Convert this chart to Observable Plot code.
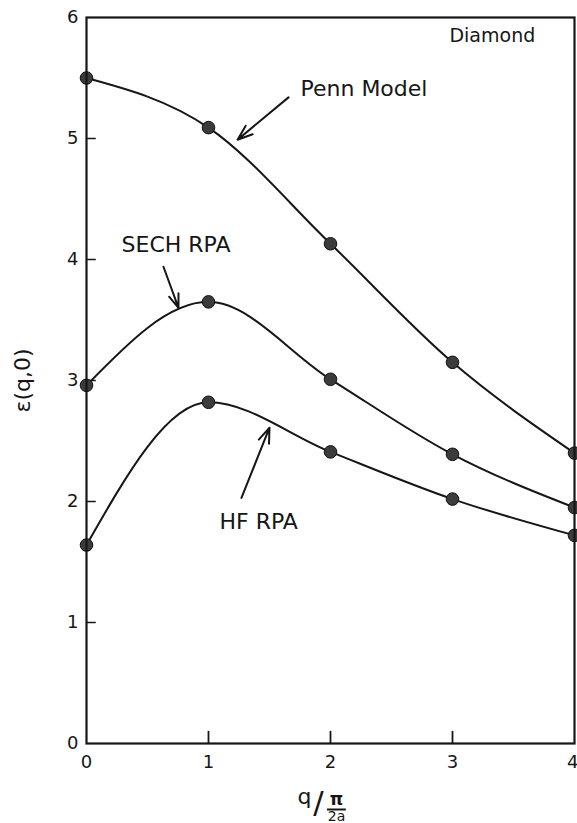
<!DOCTYPE html>
<html>
<head>
<meta charset="utf-8">
<script src="https://cdn.jsdelivr.net/npm/d3@7"></script>
<script src="https://cdn.jsdelivr.net/npm/@observablehq/plot@0.6"></script>
<style>
  html, body { margin: 0; padding: 0; background: #fff; }
  #chart svg { display: block; }
</style>
</head>
<body>
<div id="chart"></div>
<script>
// Data
const qValues = [0, 1, 2, 3, 4];
const pennModel = [5.50, 5.09, 4.13, 3.15, 2.40];
const sechRPA  = [2.96, 3.65, 3.01, 2.39, 1.95];
const hfRPA    = [1.64, 2.82, 2.41, 2.02, 1.72];
const seriesNames = ["Penn Model", "SECH RPA", "HF RPA"];
const xTicks = [0, 1, 2, 3];
const xLastTick = [4];
const yTicks = [0, 1, 2, 3, 4, 5, 6];
const xInnerTicks = [1, 2, 3];
const yInnerTicks = [1, 2, 3, 4, 5];

// Annotation labels (data coordinates)
const labelText = ["Penn Model", "SECH RPA", "HF RPA"];
const labelX = [1.754, 0.287, 1.09];
const labelY = [5.41, 4.12, 1.83];
const titleText = ["Diamond"];
const titleX = [2.975];
const titleY = [5.85];
// Annotation arrows (data coordinates)
const arrowX1 = [1.656, 0.631, 1.27];
const arrowY1 = [5.34, 3.94, 2.03];
const arrowX2 = [1.238, 0.754, 1.50];
const arrowY2 = [4.99, 3.60, 2.61];
// fraction bar of the x title (data x-extent)
const barX1 = [1.975];
const barX2 = [2.13];

const seriesValues = [pennModel, sechRPA, hfRPA];
const points = seriesNames.flatMap((name, i) =>
  qValues.map((q, j) => ({series: name, q, eps: seriesValues[i][j]})));
const labels = labelText.map((t, i) => ({t, x: labelX[i], y: labelY[i]}));
const titles = titleText.map((t, i) => ({t, x: titleX[i], y: titleY[i]}));
const arrows = arrowX1.map((x1, i) => ({x1, y1: arrowY1[i], x2: arrowX2[i], y2: arrowY2[i]}));
const bars = barX1.map((x1, i) => ({x1, x2: barX2[i]}));

const font = "'DejaVu Sans', sans-serif";
const ink = "#161616";
const fmt = d3.format("d");
const mid = {textAnchor: "middle", lineAnchor: "middle", fill: ink};

const chart = Plot.plot({
  width: 577,
  height: 823,
  marginLeft: 86,
  marginRight: 3,
  marginTop: 17,
  marginBottom: 80,
  style: {fontFamily: font, background: "#fff", color: ink},
  x: {domain: [0, 4]},
  y: {domain: [0, 6]},
  marks: [
    Plot.ruleY(yInnerTicks, {y: d => d, x1: 0, x2: 0.08, stroke: ink, strokeWidth: 1.5}),
    Plot.ruleX(xInnerTicks, {x: d => d, y1: 0, y2: 0.1, stroke: ink, strokeWidth: 1.8}),
    Plot.line(points, {x: "q", y: "eps", z: "series", curve: "monotone-x", stroke: ink, strokeWidth: 2}),
    Plot.dot(points, {x: "q", y: "eps", r: 6.3, fill: "#3b3b3b", stroke: "#111", strokeWidth: 1}),
    Plot.frame({stroke: ink, strokeWidth: 2.2}),
    Plot.axisY({ticks: yTicks, tickSize: 0, tickPadding: 8, fontSize: 18, tickFormat: fmt, label: null}),
    Plot.axisX({ticks: xTicks, tickSize: 0, tickPadding: 12, fontSize: 18, tickFormat: fmt, label: null}),
    Plot.axisX({ticks: xLastTick, tickSize: 0, tickPadding: 12, fontSize: 18, tickFormat: fmt, label: null, textAnchor: "end", dx: 4}),
    Plot.text(titles, {x: "x", y: "y", text: "t", textAnchor: "start", fontSize: 19, fill: ink}),
    Plot.text(labels, {x: "x", y: "y", text: "t", textAnchor: "start", fontSize: 22, fill: ink}),
    Plot.arrow(arrows, {x1: "x1", y1: "y1", x2: "x2", y2: "y2", stroke: ink, strokeWidth: 2, headLength: 12, headAngle: 40}),
    // y-axis title
    Plot.text(["ε(q,0)"], {frameAnchor: "left", dx: -64, rotate: -90, fontSize: 22, ...mid}),
    // x-axis title: q / (π / 2a)
    Plot.text(["q"], {frameAnchor: "bottom", dx: -26, dy: 53, fontSize: 22, ...mid}),
    Plot.text(["/"], {frameAnchor: "bottom", dx: -12, dy: 60, fontSize: 31, ...mid}),
    Plot.text(["π"], {frameAnchor: "bottom", dx: 6, dy: 56, fontSize: 17, fontWeight: "bold", ...mid}),
    Plot.ruleY(bars, {y: 0, x1: "x1", x2: "x2", dy: 66, stroke: ink, strokeWidth: 2}),
    Plot.text(["2a"], {frameAnchor: "bottom", dx: 6, dy: 73, fontSize: 14, ...mid})
  ]
});
document.getElementById("chart").append(chart);
</script>
</body>
</html>
